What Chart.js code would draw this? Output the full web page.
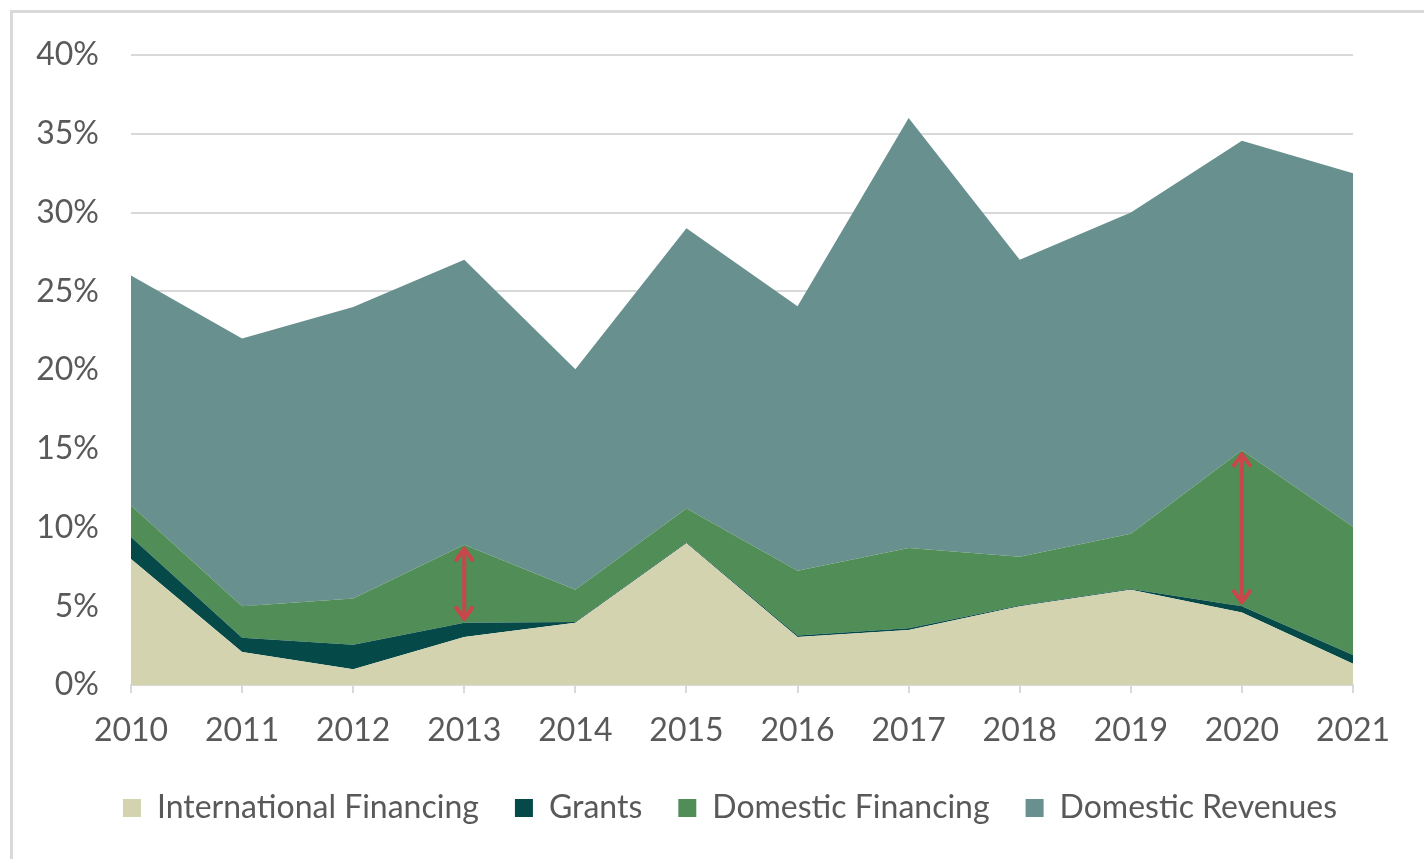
<!DOCTYPE html>
<html>
<head>
<meta charset="utf-8">
<script src="https://cdn.jsdelivr.net/npm/chart.js@4"></script>
<style>
  html, body { margin: 0; padding: 0; background: #fff; overflow: hidden; }
  #wrap { position: relative; width: 1424px; height: 859px; }
  #frame {
    position: absolute; left: 10px; top: 10px;
    width: 1500px; height: 1000px;
    border: 3px solid #d9d9d9; box-sizing: border-box;
  }
  canvas { position: absolute; left: 0; top: 0; }
</style>
</head>
<body>
<div id="wrap">
  <div id="frame"></div>
  <canvas id="financingChart" width="1424" height="859"></canvas>
</div>
<script>
const years = ["2010", "2011", "2012", "2013", "2014", "2015", "2016", "2017", "2018", "2019", "2020", "2021"];

// shares of GDP, %
const internationalFinancing = [8.0, 2.1, 1.0, 3.05, 3.95, 9.0, 3.05, 3.5, 5.0, 6.05, 4.6, 1.35];
const grants = [1.4, 0.9, 1.55, 0.9, 0.05, 0.05, 0.1, 0.1, 0.05, 0.05, 0.4, 0.55];
const domesticFinancing = [2.0, 2.0, 2.95, 4.95, 2.05, 2.15, 4.1, 5.1, 3.1, 3.5, 9.9, 8.15];
const domesticRevenues = [14.6, 17.0, 18.5, 18.1, 14.0, 17.8, 16.8, 27.3, 18.85, 20.4, 19.65, 22.45];

const yTicks = [0, 5, 10, 15, 20, 25, 30, 35, 40];

// years where the domestic financing band gets a double arrow
const arrowYears = ["2013", "2020"];

const FONT = "Lato, 'Open Sans', sans-serif";
const TEXT = "#595959";
const GRID = "#d9d9d9";

// double-headed arrow spanning the domestic financing band
const arrowPlugin = {
  id: "bandArrows",
  afterDatasetsDraw(chart) {
    const { ctx, scales } = chart;
    const xs = scales.x, ys = scales.y;
    ctx.save();
    ctx.strokeStyle = "#c9464a";
    ctx.lineWidth = 4;
    ctx.lineCap = "round";
    ctx.lineJoin = "round";
    arrowYears.forEach(yr => {
      const i = years.indexOf(yr);
      const low = internationalFinancing[i] + grants[i];
      const high = low + domesticFinancing[i];
      const x = xs.getPixelForValue(i);
      const yTop = ys.getPixelForValue(high) + 4;
      const yBot = ys.getPixelForValue(low) - 4;
      ctx.beginPath();
      ctx.moveTo(x, yTop);
      ctx.lineTo(x, yBot);
      ctx.stroke();
      ctx.beginPath();
      ctx.moveTo(x - 8, yTop + 11);
      ctx.lineTo(x, yTop);
      ctx.lineTo(x + 8, yTop + 11);
      ctx.moveTo(x - 8, yBot - 11);
      ctx.lineTo(x, yBot);
      ctx.lineTo(x + 8, yBot - 11);
      ctx.stroke();
    });
    ctx.restore();
  }
};

// legend is centred on the full frame width, not just the canvas
const legendShift = {
  id: "legendShift",
  afterLayout(chart) {
    const lg = chart.legend;
    lg.left = 36;
    lg.right = 1424;
  }
};

function area(label, data, color, fill) {
  return {
    label,
    data,
    backgroundColor: color,
    borderColor: color,
    borderWidth: 0,
    pointRadius: 0,
    tension: 0,
    fill
  };
}

new Chart(document.getElementById("financingChart"), {
  type: "line",
  data: {
    labels: years,
    datasets: [
      area("International Financing", internationalFinancing, "#d3d3af", "origin"),
      area("Grants", grants, "#054a48", "-1"),
      area("Domestic Financing", domesticFinancing, "#518d56", "-1"),
      area("Domestic Revenues", domesticRevenues, "#68908e", "-1")
    ]
  },
  options: {
    responsive: false,
    animation: false,
    layout: { padding: { top: 55, left: 0, right: 71, bottom: 25 } },
    scales: {
      x: {
        offset: false,
        grid: { drawOnChartArea: false, drawTicks: true, tickLength: 8, color: GRID, lineWidth: 2 },
        border: { display: true, color: GRID, width: 2 },
        ticks: { color: TEXT, font: { family: FONT, size: 32 }, padding: 18, maxRotation: 0 },
        afterFit(scale) { scale.height = 71; }
      },
      y: {
        stacked: true,
        min: 0,
        max: 40,
        afterBuildTicks(scale) { scale.ticks = yTicks.map(v => ({ value: v })); },
        grid: { color: GRID, lineWidth: 2, drawTicks: false },
        border: { display: false },
        ticks: {
          color: TEXT,
          font: { family: FONT, size: 32 },
          padding: 32,
          callback: v => v + "%"
        },
        afterFit(scale) { scale.width = 131; }
      }
    },
    plugins: {
      legend: {
        position: "bottom",
        labels: {
          color: TEXT,
          font: { family: FONT, size: 32 },
          boxWidth: 18,
          boxHeight: 18,
          padding: 36
        }
      },
      tooltip: { enabled: false }
    }
  },
  plugins: [arrowPlugin, legendShift]
});
</script>
</body>
</html>
